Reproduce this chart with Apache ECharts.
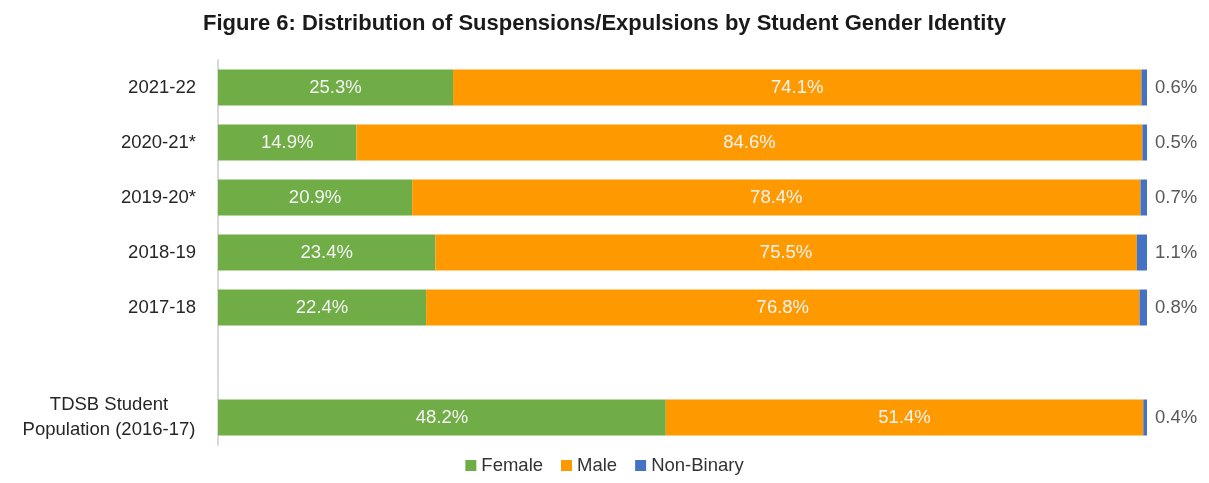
<!DOCTYPE html>
<html>
<head>
<meta charset="utf-8">
<script src="https://cdn.jsdelivr.net/npm/echarts@6/dist/echarts.min.js"></script>
<style>
  html, body { margin: 0; padding: 0; background: #fff; }
  #chart { width: 1209px; height: 483px; }
</style>
</head>
<body>
<div id="chart"></div>
<script>
// categories, top to bottom (the empty one is the gap before the population row)
var categories = ['2021-22', '2020-21*', '2019-20*', '2018-19', '2017-18', '', 'TDSB Student\nPopulation (2016-17)'];
var female = [25.3, 14.9, 20.9, 23.4, 22.4, '-', 48.2];
var male = [74.1, 84.6, 78.4, 75.5, 76.8, '-', 51.4];
var nonBinary = [0.6, 0.5, 0.7, 1.1, 0.8, '-', 0.4];

var font = 'Liberation Sans';

function pct(p) { return p.value.toFixed(1) + '%'; }

var inLabel = {
  show: true,
  position: 'inside',
  color: '#f4f4f4',
  fontFamily: font,
  fontSize: 18.5,
  formatter: pct
};

var chart = echarts.init(document.getElementById('chart'));
chart.setOption({
  backgroundColor: '#fff',
  animation: false,
  title: {
    text: 'Figure 6: Distribution of Suspensions/Expulsions by Student Gender Identity',
    left: 'center',
    top: 8,
    textStyle: { fontFamily: font, fontSize: 22, fontWeight: 'bold', color: '#1a1a1a' }
  },
  legend: {
    bottom: 3,
    left: 'center',
    itemWidth: 11,
    itemHeight: 11,
    itemGap: 18,
    icon: 'rect',
    textStyle: { fontFamily: font, fontSize: 18.5, color: '#333' },
    data: ['Female', 'Male', 'Non-Binary']
  },
  grid: { left: 218, right: 62, top: 60, bottom: 38 },
  xAxis: {
    type: 'value',
    min: 0,
    max: 100,
    show: false
  },
  yAxis: {
    type: 'category',
    inverse: true,
    data: categories,
    axisLine: { show: true, lineStyle: { color: '#d9d9d9', width: 2 } },
    axisTick: { show: false },
    axisLabel: {
      fontFamily: font, fontSize: 18.5, color: '#262626', margin: 22, align: 'right',
      // multi-line label: centre its lines on each other like the original
      formatter: function (v) {
        if (v.indexOf('\n') < 0) return v;
        return v.split('\n').map(function (s) { return '{c|' + s + '}'; }).join('\n');
      },
      rich: {
        c: { fontFamily: font, fontSize: 18.5, color: '#262626', width: 174, align: 'center', lineHeight: 25 }
      }
    }
  },
  series: [
    {
      name: 'Female', type: 'bar', stack: 'g', barWidth: 36,
      itemStyle: { color: '#70AD47' }, label: inLabel, data: female
    },
    {
      name: 'Male', type: 'bar', stack: 'g', barWidth: 36,
      itemStyle: { color: '#FF9900' }, label: inLabel, data: male
    },
    {
      name: 'Non-Binary', type: 'bar', stack: 'g', barWidth: 36,
      itemStyle: { color: '#4472C4' },
      label: {
        show: true, position: 'right', distance: 8,
        color: '#595959', fontFamily: font, fontSize: 18.5,
        formatter: pct
      },
      data: nonBinary
    }
  ]
});
</script>
</body>
</html>
